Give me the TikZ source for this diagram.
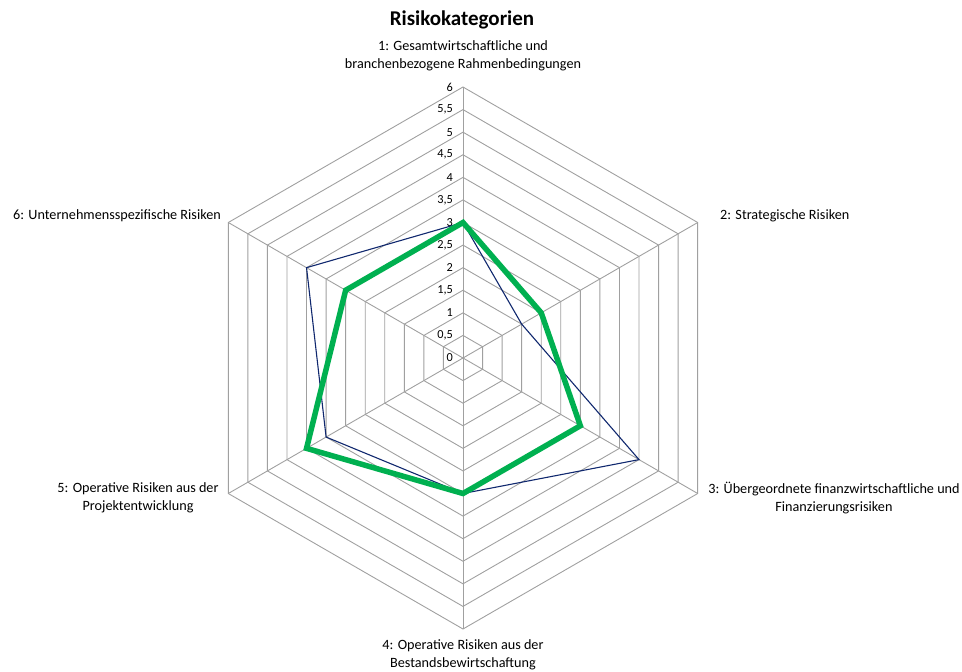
\documentclass[tikz,border=0pt]{standalone}
\usepackage{fontspec}
\setmainfont{Carlito}
\usetikzlibrary{calc}
\definecolor{gridgray}{RGB}{160,160,160}
\definecolor{seriesnavy}{RGB}{16,40,110}
\definecolor{seriesgreen}{RGB}{0,176,80}
\tikzset{
  gridline/.style={draw=gridgray, line width=0.9pt},
  axlabel/.style={font=\fontsize{14.2}{17.5}\selectfont, align=center, inner sep=0pt},
  ticklabel/.style={font=\fontsize{12.3}{14}\selectfont, anchor=east, inner sep=0pt},
  navyline/.style={draw=seriesnavy, line width=1.1pt, line join=miter},
  greenline/.style={draw=seriesgreen, line width=5.5pt, line join=miter},
}
\begin{document}
\begin{tikzpicture}[x=1pt,y=-1pt]
\useasboundingbox (0,0) rectangle (962,672);
\coordinate (c) at (463,358);
\foreach \k/\a in {1/90,2/30,3/-30,4/-90,5/-150,6/150}{
  \coordinate (ax\k) at ({463+271*cos(\a)},{358-271*sin(\a)});
}
% rings
\foreach \i in {1,...,12}{
  \draw[gridline] ($(c)!\i/12!(ax1)$) -- ($(c)!\i/12!(ax2)$) -- ($(c)!\i/12!(ax3)$)
    -- ($(c)!\i/12!(ax4)$) -- ($(c)!\i/12!(ax5)$) -- ($(c)!\i/12!(ax6)$) -- cycle;
}
% spokes
\foreach \k in {1,...,6}{
  \draw[gridline] (c) -- (ax\k);
}
% tick labels
\foreach \i/\t in {0/0,1/{0,5},2/1,3/{1,5},4/2,5/{2,5},6/3,7/{3,5},8/4,9/{4,5},10/5,11/{5,5},12/6}{
  \node[ticklabel] (tick\i) at ($(c)!\i/12!(ax1)+(-10,0)$) {\t};
}
% data series
\coordinate (b1) at ($(c)!3/6!(ax1)$);
\coordinate (b2) at ($(c)!1.5/6!(ax2)$);
\coordinate (b3) at ($(c)!4.5/6!(ax3)$);
\coordinate (b4) at ($(c)!3/6!(ax4)$);
\coordinate (b5) at ($(c)!3.5/6!(ax5)$);
\coordinate (b6) at ($(c)!4/6!(ax6)$);
\coordinate (g1) at ($(c)!3/6!(ax1)$);
\coordinate (g2) at ($(c)!2/6!(ax2)$);
\coordinate (g3) at ($(c)!3/6!(ax3)$);
\coordinate (g4) at ($(c)!3/6!(ax4)$);
\coordinate (g5) at ($(c)!4/6!(ax5)$);
\coordinate (g6) at ($(c)!3/6!(ax6)$);
\draw[navyline] (b1) -- (b2) -- (b3) -- (b4) -- (b5) -- (b6) -- cycle;
\draw[greenline] (g1) -- (g2) -- (g3) -- (g4) -- (g5) -- (g6) -- cycle;
% title and labels
\node[font=\fontsize{21}{24}\selectfont\bfseries, inner sep=0pt] (title) at (462,20) {Risikokategorien};
\node[axlabel] (lab1) at (463,56) {1: Gesamtwirtschaftliche und\\branchenbezogene Rahmenbedingungen};
\node[axlabel, anchor=west] (lab2) at (720,216) {2: Strategische Risiken};
\node[axlabel] (lab3) at (834,498) {3: Übergeordnete finanzwirtschaftliche und\\Finanzierungsrisiken};
\node[axlabel] (lab4) at (463,655) {4: Operative Risiken aus der\\Bestandsbewirtschaftung};
\node[axlabel] (lab5) at (138,498) {5: Operative Risiken aus der\\Projektentwicklung};
\node[axlabel, anchor=east] (lab6) at (221,216) {6: Unternehmensspezifische Risiken};
\end{tikzpicture}
\end{document}
